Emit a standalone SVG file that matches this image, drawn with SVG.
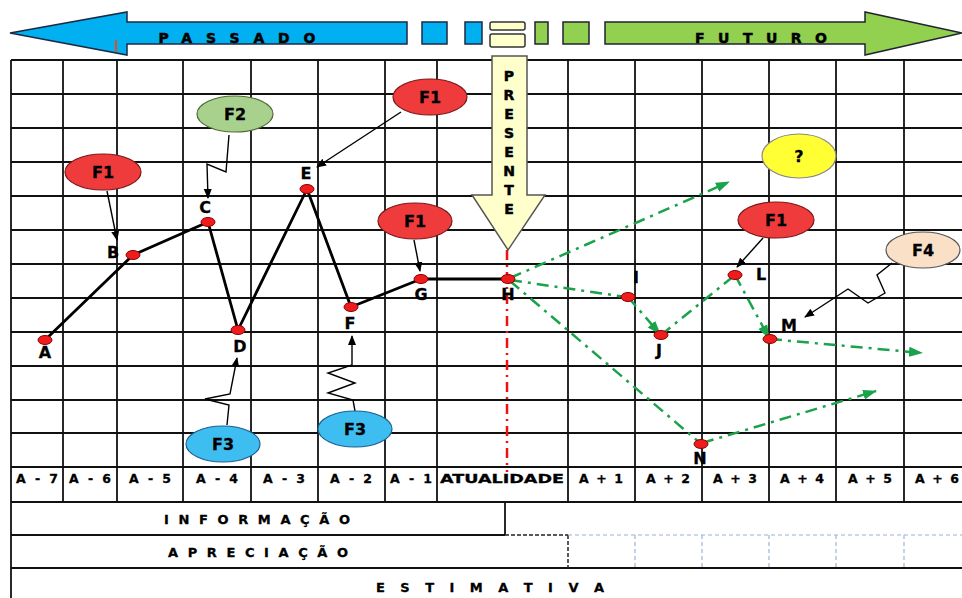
<svg xmlns="http://www.w3.org/2000/svg" width="962" height="598" viewBox="0 0 962 598">
<style>
.grid line{stroke:#111;stroke-width:1.8}
.lbl{font-family:"DejaVu Sans","Liberation Sans",Arial,sans-serif;font-weight:bold;font-size:16px;fill:#000;stroke:#000;stroke-width:0.3;text-anchor:middle}
.hdr{font-family:"DejaVu Sans","Liberation Sans",Arial,sans-serif;font-weight:bold;font-size:12.5px;fill:#000;stroke:#000;stroke-width:0.3;text-anchor:middle}
.big{font-family:"DejaVu Sans","Liberation Sans",Arial,sans-serif;font-weight:bold;font-size:14px;fill:#000;stroke:#000;stroke-width:0.5;text-anchor:middle}
.row{font-family:"DejaVu Sans","Liberation Sans",Arial,sans-serif;font-weight:bold;font-size:13px;fill:#000;stroke:#000;stroke-width:0.3;text-anchor:middle}
.pt{fill:#ee1c1c;stroke:#8a0000;stroke-width:1}
.blk{stroke:#000;stroke-width:1.4;fill:none}
.grn{stroke:#1aa34a;stroke-width:2.5;fill:none;stroke-dasharray:12 6 3 6}
.f1{fill:#ef3b3b;stroke:#7a1a1a;stroke-width:1.2}
</style>
<defs>
<marker id="ab" markerWidth="10" markerHeight="10" refX="9" refY="5" orient="auto" markerUnits="userSpaceOnUse"><path d="M0,1 L10,5 L0,9 Z" fill="#000"/></marker>
<marker id="ag" markerWidth="14" markerHeight="12" refX="13" refY="6" orient="auto" markerUnits="userSpaceOnUse"><path d="M0,1 L14,6 L0,11 Z" fill="#1aa34a"/></marker>
</defs>
<rect width="962" height="598" fill="#fff"/>

<!-- top arrows -->
<g id="passado">
<polygon points="10,33 127,12 127,22 407,22 407,44 127,44 127,55" fill="#00b0f0" stroke="#1b2a44" stroke-width="1.5"/>
<line x1="116" y1="40" x2="116" y2="52" stroke="#e0501a" stroke-width="2"/>
<text class="big" x="237" y="43" textLength="157" lengthAdjust="spacing">PASSADO</text>
</g>
<g id="blocos">
<rect x="422" y="22" width="25" height="22" fill="#00b0f0" stroke="#1b2a44" stroke-width="1.5"/>
<rect x="465" y="22" width="17" height="22" fill="#00b0f0" stroke="#1b2a44" stroke-width="1.5"/>
<rect x="490" y="22" width="35" height="8" rx="2" fill="#ffffcc" stroke="#333" stroke-width="1.5"/>
<rect x="490" y="34" width="35" height="13" rx="2" fill="#ffffcc" stroke="#333" stroke-width="1.5"/>
<rect x="535" y="22" width="13" height="22" fill="#92d050" stroke="#223" stroke-width="1.5"/>
<rect x="563" y="22" width="26" height="22" fill="#92d050" stroke="#223" stroke-width="1.5"/>
</g>
<g id="futuro">
<polygon points="605,22 865,22 865,12 962,33 865,55 865,44 605,44" fill="#92d050" stroke="#223" stroke-width="1.5"/>
<text class="big" x="761" y="43" textLength="132" lengthAdjust="spacing">FUTURO</text>
</g>

<!-- grid -->
<g class="grid">
<line x1="11" y1="60" x2="962" y2="60"/>
<line x1="11" y1="94" x2="962" y2="94"/>
<line x1="11" y1="128" x2="962" y2="128"/>
<line x1="11" y1="162" x2="962" y2="162"/>
<line x1="11" y1="196" x2="962" y2="196"/>
<line x1="11" y1="230" x2="962" y2="230"/>
<line x1="11" y1="264" x2="962" y2="264"/>
<line x1="11" y1="298" x2="962" y2="298"/>
<line x1="11" y1="332" x2="962" y2="332"/>
<line x1="11" y1="366" x2="962" y2="366"/>
<line x1="11" y1="400" x2="962" y2="400"/>
<line x1="11" y1="433" x2="962" y2="433"/>
<line x1="11" y1="467" x2="962" y2="467"/>
<line x1="11" y1="502" x2="962" y2="502"/>
<line x1="11" y1="535" x2="505" y2="535"/>
<line x1="11" y1="568" x2="962" y2="568"/>
<line x1="11" y1="60" x2="11" y2="598"/>
<line x1="63" y1="60" x2="63" y2="502"/>
<line x1="117" y1="60" x2="117" y2="502"/>
<line x1="183" y1="60" x2="183" y2="502"/>
<line x1="251" y1="60" x2="251" y2="502"/>
<line x1="318" y1="60" x2="318" y2="502"/>
<line x1="385" y1="60" x2="385" y2="502"/>
<line x1="437" y1="60" x2="437" y2="502"/>
<line x1="568" y1="60" x2="568" y2="502"/>
<line x1="635" y1="60" x2="635" y2="502"/>
<line x1="702" y1="60" x2="702" y2="502"/>
<line x1="769" y1="60" x2="769" y2="502"/>
<line x1="836" y1="60" x2="836" y2="502"/>
<line x1="904" y1="60" x2="904" y2="502"/>
<line x1="505" y1="502" x2="505" y2="535"/>
</g>
<g id="tabela-tracejada">
<line x1="505" y1="535" x2="568" y2="535" stroke="#222" stroke-width="1.5" stroke-dasharray="4 2"/>
<line x1="568" y1="535" x2="568" y2="568" stroke="#222" stroke-width="1.5" stroke-dasharray="4 2"/>
<g stroke="#9bb4d6" stroke-width="1.2" stroke-dasharray="4 3">
<line x1="568" y1="535" x2="962" y2="535"/>
<line x1="635" y1="535" x2="635" y2="568"/>
<line x1="702" y1="535" x2="702" y2="568"/>
<line x1="769" y1="535" x2="769" y2="568"/>
<line x1="836" y1="535" x2="836" y2="568"/>
<line x1="904" y1="535" x2="904" y2="568"/>
</g>
</g>

<!-- header texts -->
<g id="anos">
<text class="hdr" x="37" y="483" textLength="42" lengthAdjust="spacing">A - 7</text>
<text class="hdr" x="90" y="483" textLength="42" lengthAdjust="spacing">A - 6</text>
<text class="hdr" x="150" y="483" textLength="42" lengthAdjust="spacing">A - 5</text>
<text class="hdr" x="217" y="483" textLength="42" lengthAdjust="spacing">A - 4</text>
<text class="hdr" x="284" y="483" textLength="42" lengthAdjust="spacing">A - 3</text>
<text class="hdr" x="351" y="483" textLength="42" lengthAdjust="spacing">A - 2</text>
<text class="hdr" x="411" y="483" textLength="42" lengthAdjust="spacing">A - 1</text>
<text class="hdr" x="502" y="483" textLength="124" lengthAdjust="spacingAndGlyphs">ATUALIDADE</text>
<text class="hdr" x="601" y="483" textLength="44" lengthAdjust="spacing">A + 1</text>
<text class="hdr" x="668" y="483" textLength="44" lengthAdjust="spacing">A + 2</text>
<text class="hdr" x="735" y="483" textLength="44" lengthAdjust="spacing">A + 3</text>
<text class="hdr" x="802" y="483" textLength="44" lengthAdjust="spacing">A + 4</text>
<text class="hdr" x="870" y="483" textLength="44" lengthAdjust="spacing">A + 5</text>
<text class="hdr" x="937" y="483" textLength="44" lengthAdjust="spacing">A + 6</text>
</g>
<g id="linhas-tabela">
<text class="row" x="257" y="524" textLength="186" lengthAdjust="spacing">I N F O R M A Ç Ã O</text>
<text class="row" x="258" y="557" textLength="180" lengthAdjust="spacing">A P R E C I A Ç Ã O</text>
<text class="row" x="490" y="592" textLength="228" lengthAdjust="spacing">E S T I M A T I V A</text>
</g>

<!-- presente -->
<g id="presente">
<polygon points="492,56 527,56 527,195 545,195 508,250 472,195 492,195" fill="#ffffcc" stroke="#555" stroke-width="1.5"/>
<g class="big" font-size="13.5">
<text x="509" y="81">P</text><text x="509" y="100">R</text><text x="509" y="119">E</text><text x="509" y="138">S</text><text x="509" y="157">E</text><text x="509" y="176">N</text><text x="509" y="195">T</text><text x="509" y="214">E</text>
</g>
<line x1="507" y1="250" x2="507" y2="472" stroke="#f01010" stroke-width="2.5" stroke-dasharray="10 5 2 5"/>
</g>

<!-- connectors -->
<g id="conectores">
<polyline points="45,340 133,255 208,222 238,330 307,189 351,307 421,279 508,279" fill="none" stroke="#000" stroke-width="2.8" stroke-linejoin="round"/>
<path class="blk" d="M107,191 L117,240" marker-end="url(#ab)"/>
<path class="blk" d="M229,135 L226,172 L207,164 L208,198" marker-end="url(#ab)"/>
<path class="blk" d="M401,112 L317,167" marker-end="url(#ab)"/>
<path class="blk" d="M414,240 L420,271" marker-end="url(#ab)"/>
<path class="blk" d="M227,425 L229,405 L205,399 L230,394 L237,358" marker-end="url(#ab)"/>
<path class="blk" d="M355,411 L353,400 L328,393 L355,383 L328,373 L352,365 L352,336" marker-end="url(#ab)"/>
<path class="blk" d="M892,263 L877,275 L885,293 L868,303 L848,289 L805,317" marker-end="url(#ab)"/>
<path class="blk" d="M763,238 L737,267" marker-end="url(#ab)"/>
<path class="grn" d="M510,278 L729,182" marker-end="url(#ag)"/>
<path class="grn" d="M510,280 L626,297"/>
<path class="grn" d="M510,281 L700,443"/>
<path class="grn" d="M628,297 L660,334" marker-end="url(#ag)"/>
<path class="grn" d="M661,335 L735,275"/>
<path class="grn" d="M735,275 L769,338" marker-end="url(#ag)"/>
<path class="grn" d="M770,339 L922,353" marker-end="url(#ag)"/>
<path class="grn" d="M702,443 L876,391" marker-end="url(#ag)"/>
</g>

<!-- fatores -->
<g id="f1-a"><ellipse class="f1" cx="103" cy="172" rx="38" ry="18"/><text class="lbl" x="103" y="178">F1</text></g>
<g id="f2"><ellipse cx="235" cy="114" rx="38" ry="18" fill="#a9d18e" stroke="#4f6b34" stroke-width="1.2"/><text class="lbl" x="235" y="120">F2</text></g>
<g id="f1-b"><ellipse class="f1" cx="430" cy="97" rx="37" ry="18"/><text class="lbl" x="430" y="103">F1</text></g>
<g id="f1-c"><ellipse class="f1" cx="415" cy="221" rx="37" ry="18"/><text class="lbl" x="415" y="227">F1</text></g>
<g id="f1-d"><ellipse class="f1" cx="776" cy="220" rx="38" ry="18"/><text class="lbl" x="776" y="226">F1</text></g>
<g id="q"><ellipse cx="799" cy="156" rx="37" ry="22" fill="#ffff33" stroke="#888" stroke-width="1.2"/><text class="lbl" x="799" y="162">?</text></g>
<g id="f4"><ellipse cx="923" cy="250" rx="37" ry="18" fill="#fbe0c8" stroke="#555" stroke-width="1.2"/><text class="lbl" x="923" y="256">F4</text></g>
<g id="f3-a"><ellipse cx="223" cy="444" rx="37" ry="18" fill="#3dbdf0" stroke="#1f5f8f" stroke-width="1.2"/><text class="lbl" x="223" y="450">F3</text></g>
<g id="f3-b"><ellipse cx="355" cy="429" rx="37" ry="18" fill="#3dbdf0" stroke="#1f5f8f" stroke-width="1.2"/><text class="lbl" x="355" y="435">F3</text></g>

<!-- points -->
<g id="A"><ellipse class="pt" cx="45" cy="340" rx="7" ry="4.5"/><text class="lbl" x="45" y="358">A</text></g>
<g id="B"><ellipse class="pt" cx="133" cy="255" rx="7" ry="4.5"/><text class="lbl" x="113" y="258">B</text></g>
<g id="C"><ellipse class="pt" cx="208" cy="222" rx="7" ry="4.5"/><text class="lbl" x="205" y="213">C</text></g>
<g id="D"><ellipse class="pt" cx="238" cy="330" rx="7" ry="4.5"/><text class="lbl" x="240" y="352">D</text></g>
<g id="E"><ellipse class="pt" cx="307" cy="189" rx="7" ry="4.5"/><text class="lbl" x="306" y="179">E</text></g>
<g id="F"><ellipse class="pt" cx="351" cy="307" rx="7" ry="4.5"/><text class="lbl" x="350" y="329">F</text></g>
<g id="G"><ellipse class="pt" cx="421" cy="279" rx="7" ry="4.5"/><text class="lbl" x="421" y="300">G</text></g>
<g id="H"><ellipse class="pt" cx="508" cy="279" rx="7" ry="4.5"/><text class="lbl" x="508" y="300">H</text></g>
<g id="I"><ellipse class="pt" cx="628" cy="297" rx="7" ry="4.5"/><text class="lbl" x="636" y="283">I</text></g>
<g id="J"><ellipse class="pt" cx="661" cy="335" rx="7" ry="4.5"/><text class="lbl" x="659" y="356">J</text></g>
<g id="L"><ellipse class="pt" cx="735" cy="275" rx="7" ry="4.5"/><text class="lbl" x="761" y="280">L</text></g>
<g id="M"><ellipse class="pt" cx="770" cy="339" rx="7" ry="4.5"/><text class="lbl" x="789" y="331">M</text></g>
<g id="N"><ellipse class="pt" cx="701" cy="444" rx="7" ry="4.5"/><text class="lbl" x="700" y="464">N</text></g>
</svg>
